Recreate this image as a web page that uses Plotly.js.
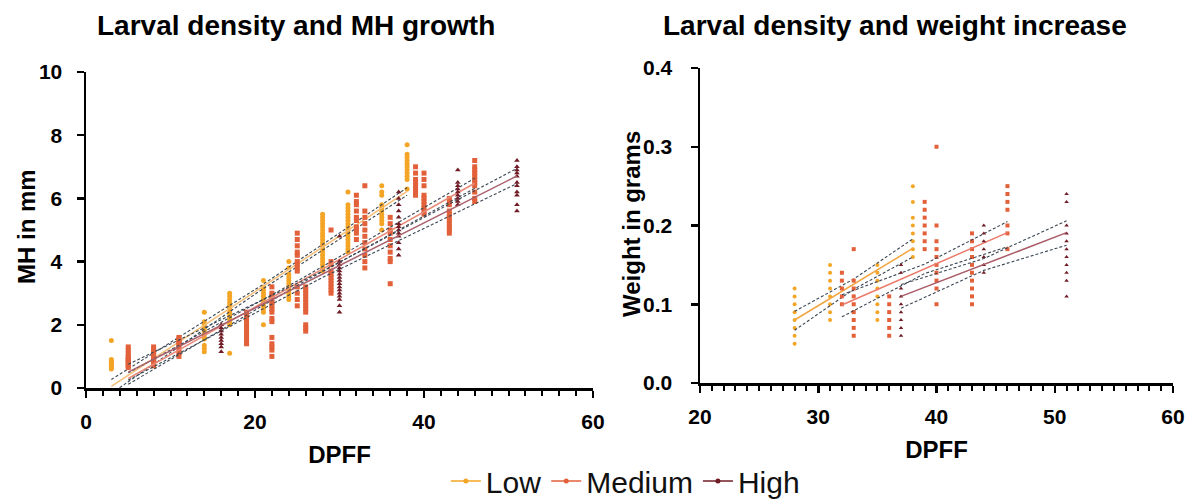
<!DOCTYPE html>
<html>
<head>
<meta charset="utf-8">
<script src="https://cdn.plot.ly/plotly-3.0.1.min.js"></script>
<style>
html,body{margin:0;padding:0;background:#fff;}
#chart{width:1198px;height:500px;}
</style>
</head>
<body>
<div id="chart"></div>
<script>
// ---------- Left chart: MH growth (mm) ----------
const mhLowDays = [3, 14, 17, 21, 24, 28, 31, 35, 38];
const mhLowValues = [
  [1.5, 0.9, 0.85, 0.8, 0.75, 0.7, 0.65, 0.6],
  [2.4, 2.1, 2.0, 1.9, 1.8, 1.7, 1.6, 1.55, 1.35, 1.25, 1.15],
  [3.0, 2.9, 2.8, 2.7, 2.6, 2.5, 2.4, 2.3, 2.2, 2.1, 2.0, 1.1],
  [3.4, 3.2, 3.1, 3.0, 2.9, 2.8, 2.7, 2.6, 2.5, 2.4, 2.0],
  [4.0, 3.8, 3.6, 3.5, 3.4, 3.3, 3.2, 3.1, 3.0, 2.9, 2.8],
  [5.5, 5.4, 5.3, 5.2, 5.1, 5.0, 4.9, 4.8, 4.7, 4.6, 4.5, 4.4, 4.3, 4.2, 4.1, 4.0, 3.9, 3.8, 3.7],
  [6.2, 5.8, 5.7, 5.6, 5.5, 5.4, 5.3, 5.2, 5.1, 5.0, 4.9, 4.8, 4.7, 4.6, 4.5, 4.4, 4.3],
  [6.4, 6.2, 6.1, 5.8, 5.7, 5.6, 5.5, 5.4, 5.3, 5.2, 5.0],
  [7.7, 7.4, 7.3, 7.2, 7.1, 7.0, 6.9, 6.8, 6.7, 6.6, 6.3]
];
const mhMediumDays = [5, 8, 11, 19, 22, 25, 26, 29, 32, 33, 36, 39, 40, 43, 46];
const mhMediumValues = [
  [1.3, 1.2, 1.1, 1.0, 0.95, 0.9, 0.85, 0.8, 0.75, 0.7, 0.65],
  [1.3, 1.2, 1.15, 1.1, 1.0, 0.95, 0.9, 0.85, 0.8, 0.7],
  [1.6, 1.55, 1.5, 1.45, 1.4, 1.3, 1.2, 1.1, 1.0],
  [2.4, 2.3, 2.2, 2.1, 2.0, 1.9, 1.8, 1.7, 1.6, 1.5, 1.4],
  [3.2, 3.0, 2.9, 2.8, 2.7, 2.6, 2.5, 2.4, 2.2, 2.1, 1.6, 1.4, 1.3, 1.2, 1.0],
  [4.9, 4.7, 4.5, 4.3, 4.2, 4.0, 3.9, 3.8, 3.7, 3.2, 3.0, 2.8, 2.6],
  [3.2, 3.1, 3.0, 2.9, 2.8, 2.7, 2.6, 2.5, 2.4, 2.0, 1.9, 1.8],
  [5.0, 4.0, 3.9, 3.7, 3.6, 3.5, 3.4, 3.3, 3.2, 3.1, 3.0],
  [6.1, 5.9, 5.8, 5.6, 5.4, 5.3, 5.1, 5.0, 4.9, 4.7],
  [6.4, 5.6, 5.4, 5.2, 5.0, 4.8, 4.6, 4.4, 4.2, 4.0, 3.8],
  [5.4, 5.2, 5.0, 4.9, 4.7, 4.5, 4.3, 4.1, 4.0, 3.3],
  [7.0, 6.8, 6.6, 6.5, 6.4, 6.3, 6.2, 6.1],
  [6.8, 6.6, 6.4, 6.1, 6.0, 5.9, 5.8, 5.7, 5.6, 5.5],
  [6.0, 5.9, 5.8, 5.6, 5.5, 5.4, 5.3, 5.2, 5.1, 5.0, 4.9],
  [7.2, 7.0, 6.9, 6.8, 6.7, 6.6, 6.5, 6.4, 6.2, 6.0, 5.9]
];
const mhHighDays = [16, 30, 37, 44, 51];
const mhHighValues = [
  [2.0, 1.9, 1.8, 1.7, 1.6, 1.5, 1.4, 1.3, 1.15],
  [4.8, 4.0, 3.9, 3.8, 3.7, 3.6, 3.5, 3.4, 3.3, 3.2, 3.1, 3.0, 2.9, 2.8, 2.6, 2.4],
  [6.2, 6.0, 5.8, 5.6, 5.4, 5.2, 5.1, 5.0, 4.9, 4.8, 4.6, 4.4, 4.2],
  [6.9, 6.5, 6.4, 6.3, 6.2, 6.1, 6.0, 5.9, 5.8],
  [7.2, 7.0, 6.9, 6.8, 6.7, 6.5, 6.4, 6.2, 6.1, 5.8, 5.6]
];
// regression fits and 95% confidence bands
const mhFitLowX = [3, 20.5, 38];
const mhFitLowY = [0.05, 3.13, 6.22];
const mhFitLowUpper = [0.27, 3.2, 6.34];
const mhFitLowLower = [-0.17, 3.06, 6.1];
const mhFitMediumX = [5, 25.5, 46];
const mhFitMediumY = [0.3, 3.39, 6.48];
const mhFitMediumUpper = [0.48, 3.46, 6.64];
const mhFitMediumLower = [0.12, 3.32, 6.32];
const mhFitHighX = [5, 28, 51];
const mhFitHighY = [0.5, 3.6, 6.71];
const mhFitHighUpper = [0.75, 3.7, 6.95];
const mhFitHighLower = [0.25, 3.5, 6.47];

// ---------- Right chart: weight (g) ----------
const wLowDays = [28, 31, 35, 38];
const wLowValues = [
  [0.12, 0.11, 0.10, 0.09, 0.08, 0.07, 0.06, 0.05],
  [0.15, 0.14, 0.13, 0.12, 0.11, 0.10, 0.09, 0.08],
  [0.15, 0.14, 0.13, 0.12, 0.11, 0.10, 0.09, 0.08],
  [0.25, 0.23, 0.21, 0.20, 0.19, 0.18, 0.17, 0.16]
];
const wMediumDays = [32, 33, 36, 39, 40, 43, 46];
const wMediumValues = [
  [0.14, 0.13, 0.12, 0.11, 0.10],
  [0.17, 0.13, 0.12, 0.11, 0.10, 0.09, 0.08, 0.07, 0.06],
  [0.11, 0.10, 0.09, 0.08, 0.07, 0.06],
  [0.23, 0.22, 0.21, 0.20, 0.19, 0.18, 0.17],
  [0.30, 0.20, 0.18, 0.17, 0.16, 0.15, 0.14, 0.13, 0.12, 0.10],
  [0.19, 0.18, 0.17, 0.16, 0.15, 0.14, 0.13, 0.12, 0.11, 0.10],
  [0.25, 0.24, 0.23, 0.22, 0.20, 0.19, 0.17]
];
const wHighDays = [37, 44, 51];
const wHighValues = [
  [0.15, 0.14, 0.12, 0.11, 0.10, 0.09, 0.08, 0.07, 0.06],
  [0.20, 0.19, 0.18, 0.17, 0.16, 0.15, 0.14],
  [0.24, 0.23, 0.20, 0.19, 0.18, 0.17, 0.16, 0.15, 0.14, 0.13, 0.11]
];
const wFitLowX = [28, 33, 38];
const wFitLowY = [0.08, 0.1255, 0.171];
const wFitLowUpper = [0.091, 0.132, 0.183];
const wFitLowLower = [0.067, 0.119, 0.160];
const wFitMediumX = [32, 39, 46];
const wFitMediumY = [0.099, 0.145, 0.191];
const wFitMediumUpper = [0.112, 0.151, 0.205];
const wFitMediumLower = [0.084, 0.139, 0.173];
const wFitHighX = [37, 44, 51];
const wFitHighY = [0.110, 0.1505, 0.191];
const wFitHighUpper = [0.125, 0.158, 0.206];
const wFitHighLower = [0.095, 0.143, 0.175];

const groupNames = ['Low', 'Medium', 'High'];
const groupColors = ['#F4A526', '#E2613A', '#701C26'];
const fitColors = ['#F5BE78', '#E98A78', '#A8606C'];
const fitColorsRight = ['#F2A540', '#EC7A6A', '#A85A66'];
const groupSymbols = ['circle', 'square', 'triangle-up'];

function expand(days, values) {
  const xs = [], ys = [];
  days.forEach((d, i) => values[i].forEach(v => { xs.push(d); ys.push(v); }));
  return {xs, ys};
}

const traces = [];
const ciColor = '#3A4652';

function addGroup(days, values, fx, fy, fu, fl, g, xa, ya, msize, fitCols) {
  const p = expand(days, values);
  traces.push({x: p.xs, y: p.ys, xaxis: xa, yaxis: ya, type: 'scatter', mode: 'markers',
    showlegend: false,
    marker: {symbol: groupSymbols[g], size: msize, color: groupColors[g], line: {width: 0}}});
  traces.push({x: fx, y: fu, xaxis: xa, yaxis: ya, type: 'scatter', mode: 'lines', showlegend: false,
    line: {color: ciColor, width: 1.1, dash: '3px,2px'}});
  traces.push({x: fx, y: fl, xaxis: xa, yaxis: ya, type: 'scatter', mode: 'lines', showlegend: false,
    line: {color: ciColor, width: 1.1, dash: '3px,2px'}});
  traces.push({x: fx, y: fy, xaxis: xa, yaxis: ya, type: 'scatter', mode: 'lines', showlegend: false,
    line: {color: fitCols[g], width: 1.5}});
}

addGroup(mhLowDays, mhLowValues, mhFitLowX, mhFitLowY, mhFitLowUpper, mhFitLowLower, 0, 'x', 'y', 5, fitColors);
addGroup(mhMediumDays, mhMediumValues, mhFitMediumX, mhFitMediumY, mhFitMediumUpper, mhFitMediumLower, 1, 'x', 'y', 5, fitColors);
addGroup(mhHighDays, mhHighValues, mhFitHighX, mhFitHighY, mhFitHighUpper, mhFitHighLower, 2, 'x', 'y', 5, fitColors);
addGroup(wLowDays, wLowValues, wFitLowX, wFitLowY, wFitLowUpper, wFitLowLower, 0, 'x2', 'y2', 4, fitColorsRight);
addGroup(wMediumDays, wMediumValues, wFitMediumX, wFitMediumY, wFitMediumUpper, wFitMediumLower, 1, 'x2', 'y2', 4, fitColorsRight);
addGroup(wHighDays, wHighValues, wFitHighX, wFitHighY, wFitHighUpper, wFitHighLower, 2, 'x2', 'y2', 4, fitColorsRight);

// legend entries
groupNames.forEach((n, g) => {
  traces.push({x: [null], y: [null], type: 'scatter', mode: 'lines+markers', name: n, xaxis: 'x', yaxis: 'y',
    line: {color: groupColors[g], width: 1.5}, marker: {color: groupColors[g], size: 5, symbol: 'circle'}});
});

const FONT = 'Liberation Sans, Arial, Helvetica, sans-serif';
const tickFont = {family: FONT, size: 21, color: '#000', weight: 'bold'};
const axTitleFont = {family: FONT, size: 24, color: '#000', weight: 'bold'};

function axis(extra) {
  return Object.assign({
    showline: true, linecolor: '#000', linewidth: 2.5, mirror: false,
    showgrid: false, zeroline: false, ticks: 'outside', ticklen: 7, tickwidth: 2.5, tickcolor: '#000',
    tickfont: tickFont, fixedrange: true, automargin: false
  }, extra);
}

const layout = {
  width: 1198, height: 500,
  margin: {l: 0, r: 0, t: 0, b: 0, autoexpand: false},
  paper_bgcolor: '#fff', plot_bgcolor: '#fff',
  showlegend: true,
  legend: {orientation: 'h', x: 0.522, xanchor: 'center', y: -0.014, yanchor: 'bottom',
    font: {family: FONT, size: 30, color: '#111'}, itemwidth: 30, tracegroupgap: 0, bgcolor: 'rgba(0,0,0,0)'},
  xaxis: axis({domain: [86/1198, 593/1198], range: [0, 60], tickvals: [0, 20, 40, 60], ticklabelstandoff: 6,
    minor: {dtick: 2, ticks: 'outside', ticklen: 5, tickwidth: 2, tickcolor: '#000'},
    title: {text: 'DPFF', font: axTitleFont, standoff: 15}, anchor: 'y'}),
  yaxis: axis({domain: [(500-388)/500, (500-72)/500], range: [0, 10], tickvals: [0, 2, 4, 6, 8, 10],
    ticklabelstandoff: 10, anchor: 'x'}),
  xaxis2: axis({domain: [700/1198, 1173/1198], range: [20, 60], tickvals: [20, 30, 40, 50, 60], ticklabelstandoff: 6,
    minor: {dtick: 1, ticks: 'outside', ticklen: 5, tickwidth: 2, tickcolor: '#000'},
    title: {text: 'DPFF', font: axTitleFont, standoff: 15}, anchor: 'y2'}),
  yaxis2: axis({domain: [(500-383)/500, (500-68)/500], range: [0, 0.4], tickvals: [0, 0.1, 0.2, 0.3, 0.4],
    tickformat: '.1f', ticklabelstandoff: 14, anchor: 'x2'}),
  annotations: [
    {text: 'Larval density and MH growth', xref: 'paper', yref: 'paper', x: 296/1198, y: 1 - 25/500,
      xanchor: 'center', yanchor: 'middle', showarrow: false, font: {family: FONT, size: 28, color: '#000', weight: 'bold'}},
    {text: 'Larval density and weight increase', xref: 'paper', yref: 'paper', x: 895/1198, y: 1 - 25/500,
      xanchor: 'center', yanchor: 'middle', showarrow: false, font: {family: FONT, size: 28, color: '#000', weight: 'bold'}},
    {text: 'MH in mm', xref: 'paper', yref: 'paper', x: 27/1198, y: 1 - 227/500, textangle: -90,
      xanchor: 'center', yanchor: 'middle', showarrow: false, font: axTitleFont},
    {text: 'Weight in grams', xref: 'paper', yref: 'paper', x: 632/1198, y: 1 - 224/500, textangle: -90,
      xanchor: 'center', yanchor: 'middle', showarrow: false, font: axTitleFont}
  ]
};

Plotly.newPlot('chart', traces, layout, {displayModeBar: false, staticPlot: true});
</script>
</body>
</html>
